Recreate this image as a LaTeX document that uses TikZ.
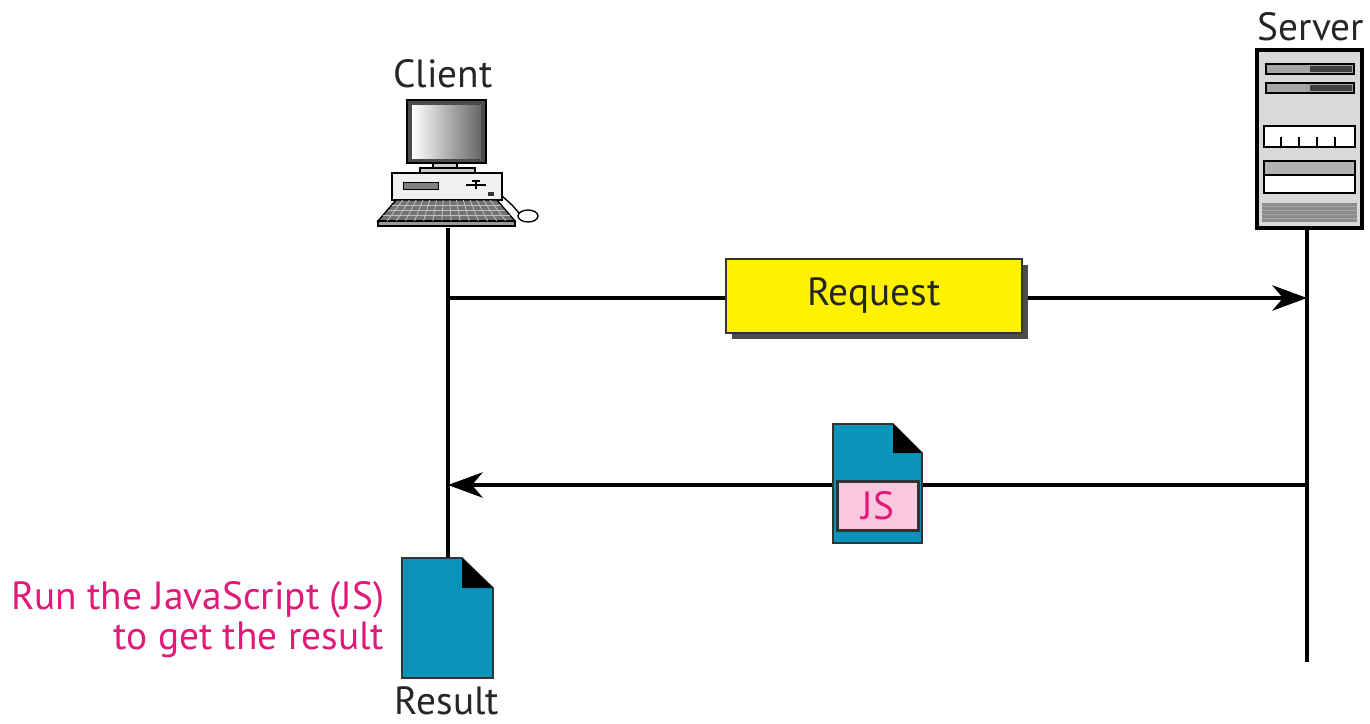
\documentclass[tikz,border=0pt]{standalone}
\usepackage{fontspec}
\setmainfont{PT Sans}
\usetikzlibrary{arrows.meta,positioning}
\definecolor{docblue}{RGB}{10,148,188}
\definecolor{jspink}{RGB}{250,200,222}
\definecolor{jsmag}{RGB}{225,25,120}
\tikzset{
  lbl/.style={font=\fontsize{29.5}{36}\selectfont, text=black!85},
  life/.style={line width=2.6pt},
  msg/.style={line width=2.6pt, -{Stealth[length=26pt,width=19pt,inset=8pt]}},
  docfill/.style={fill=docblue, draw=black!80, line width=1.2pt},
}
\begin{document}
\begin{tikzpicture}[x=0.75pt,y=-0.75pt]
\useasboundingbox (0,0) rectangle (1370,724);
% labels
\node[lbl] (client) at (443,74) {Client};
\node[lbl] (server) at (1311,27) {Server};

% client computer
\draw[fill=black!70, line width=1pt] (407,100) rectangle (486,163);
\shade[left color=white, right color=black!60] (412,105) rectangle (481,158);
\draw[fill=black!20, line width=0.8pt] (433,163) rectangle (457,168);
\draw[fill=black!20, line width=0.8pt] (420,168) rectangle (475,173);
\draw[fill=black!6, line width=1pt] (392,173) rectangle (502,200);
\draw[fill=black!50] (403,182) rectangle (438,189);
\draw[line width=1pt] (466,185) -- (486,185) (472,181) -- (480,181) (476,181) -- (476,189);
\fill[black!80] (488,192) rectangle (494,196);
% keyboard
\draw[fill=black!55, line width=1pt] (396,200) -- (497,200) -- (515,221) -- (378,221) -- cycle;
\draw[fill=black!40, line width=1pt] (378,221) rectangle (515,226);
\foreach \k in {1,...,14}
  \draw[black!25, line width=0.6pt] (396+\k*6.73,200) -- (378+\k*9.13,221);
\foreach \yy/\xl/\xr in {205/392/501, 210/388/505, 215/383/510}
  \draw[black!25, line width=0.6pt] (\xl,\yy) -- (\xr,\yy);
% mouse
\draw[line width=1pt] (502,196) -- (512,205) -- (519,213);
\draw[fill=white, line width=1pt] (528,216) ellipse [x radius=7.5pt, y radius=4.5pt];

% server
\draw[fill=black!15, line width=2.8pt] (1257,50) rectangle (1362,228);
\foreach \y in {64,83} {
  \draw[fill=black!35, line width=1pt] (1266,\y) rectangle (1354,\y+10);
  \fill[black!75] (1310,\y+2) rectangle (1352,\y+8);
}
\draw[fill=white, line width=1pt] (1264,126) rectangle (1355,147);
\foreach \x in {1281,1299,1317,1335}
  \draw[line width=1pt] (\x,137) -- (\x,147);
\draw[fill=white, line width=1pt] (1264,161) rectangle (1355,193);
\draw[fill=black!30, line width=1pt] (1264,161) rectangle (1355,175);
\fill[black!45] (1262,203) rectangle (1357,222);
\foreach \y in {206,210,...,220}
  \draw[black!35, line width=0.5pt] (1262,\y) -- (1357,\y);

% lifelines
\coordinate (cTop) at (448,228);
\coordinate (resTop) at (448,558);
\coordinate (sTop) at (1307,230);
\coordinate (sBot) at (1307,662);
\draw[life] (cTop) -- (resTop);
\draw[life] (sTop) -- (sBot);

% request
\coordinate (reqFrom) at (448,298);
\coordinate (reqTo) at (1307,298);
\draw[msg] (reqFrom) -- (reqTo);
\fill[black!70] (732,265) rectangle (1028,339);
\node[lbl, draw=black!80, fill=yellow, line width=1.6pt, minimum width=222pt, minimum height=55.5pt] (req) at (874,296) {Request};

% response with JS file
\coordinate (resFrom) at (1307,485);
\coordinate (resTo) at (448,485);
\draw[msg] (resFrom) -- (resTo);
\draw[docfill] (833,424) -- (893,424) -- (922,453) -- (922,543) -- (833,543) -- cycle;
\fill[black] (893,424) -- (922,453) -- (893,453) -- cycle;
\node[lbl, text=jsmag, draw=black!80, fill=jspink, line width=1.8pt, inner sep=0pt, minimum width=61pt, minimum height=37pt] (js) at (878,506) {JS};

% result
\draw[docfill] (402,558) -- (462,558) -- (493,588) -- (493,678) -- (402,678) -- cycle;
\fill[black] (462,558) -- (493,588) -- (462,588) -- cycle;
\node[lbl, inner sep=1pt] (result) at (447,701) {Result};
\node[lbl, font=\fontsize{29.5}{30}\selectfont, text=jsmag, align=right, anchor=east] (note) at (389,620) {Run the JavaScript (JS)\\to get the result};

\end{tikzpicture}
\end{document}
